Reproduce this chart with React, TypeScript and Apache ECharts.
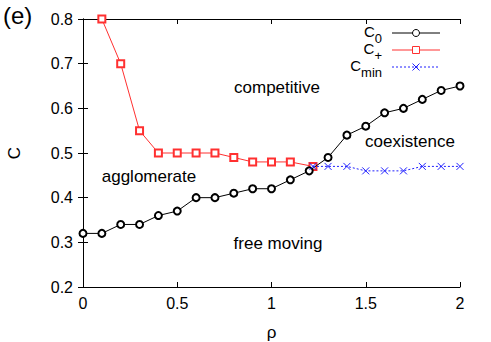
import React, { useEffect, useRef } from "react";
import * as echarts from "echarts";

const rho = [0, 0.1, 0.2, 0.3, 0.4, 0.5, 0.6, 0.7, 0.8, 0.9, 1.0, 1.1, 1.2, 1.3, 1.4, 1.5, 1.6, 1.7, 1.8, 1.9, 2.0];
const c0 = [0.32, 0.32, 0.34, 0.34, 0.36, 0.37, 0.40, 0.40, 0.41, 0.42, 0.42, 0.44, 0.46, 0.49, 0.54, 0.56, 0.59, 0.60, 0.62, 0.64, 0.65];
const cPlusRho = [0.1, 0.2, 0.3, 0.4, 0.5, 0.6, 0.7, 0.8, 0.9, 1.0, 1.1, 1.22];
const cPlus = [0.80, 0.70, 0.55, 0.50, 0.50, 0.50, 0.50, 0.49, 0.48, 0.48, 0.48, 0.47];
const cMinRho = [1.22, 1.3, 1.4, 1.5, 1.6, 1.7, 1.8, 1.9, 2.0];
const cMin = [0.47, 0.47, 0.47, 0.46, 0.46, 0.46, 0.47, 0.47, 0.47];

const xTicks = { min: 0, max: 2, interval: 0.5 };
const yTicks = { min: 0.2, max: 0.8, interval: 0.1 };

const legendNames = [
  { base: "C", sub: "0" },
  { base: "C", sub: "+" },
  { base: "C", sub: "min" },
];
const regionLabels = ["competitive", "agglomerate", "coexistence", "free moving"];

const FONT = "Liberation Sans";
const RED = "#ff3030";
const BLUE = "#2020ff";

function measure(text: string, size: number): number {
  const c = document.createElement("canvas").getContext("2d");
  if (!c) return text.length * size * 0.55;
  c.font = `${size}px "${FONT}"`;
  return c.measureText(text).width;
}

export default function App() {
  const ref = useRef<HTMLDivElement>(null);
  useEffect(() => {
    if (!ref.current) return;
    const chart = echarts.init(ref.current, undefined, { renderer: "svg" });
    const zip = (xs: number[], ys: number[]) => xs.map((x, i) => [x, ys[i]]);

    const axisCommon = {
      type: "value" as const,
      splitLine: { show: false },
      axisLine: { show: true, lineStyle: { color: "#000", width: 1 } },
      axisTick: { show: true, inside: true, length: 5, lineStyle: { color: "#000", width: 1 } },
    };

    const rowY = [33, 50, 67];
    const baseSize = 15;
    const subSize = 13;
    const textRight = 382;
    const legendGraphics: any[] = [];
    legendNames.forEach((n, i) => {
      const y = rowY[i];
      const baseBaseline = y + 4;
      const subBaseline = y + 10;
      const subW = measure(n.sub, subSize);
      legendGraphics.push({
        type: "text",
        x: textRight,
        y: subBaseline - 0.3465 * subSize,
        style: {
          text: n.sub,
          fontSize: subSize,
          fontFamily: FONT,
          fill: "#000",
          align: "right",
          verticalAlign: "middle",
        },
      });
      legendGraphics.push({
        type: "text",
        x: textRight - subW,
        y: baseBaseline - 0.3465 * baseSize,
        style: {
          text: n.base,
          fontSize: baseSize,
          fontFamily: FONT,
          fill: "#000",
          align: "right",
          verticalAlign: "middle",
        },
      });
      const color = i === 0 ? "#000" : i === 1 ? RED : BLUE;
      legendGraphics.push({
        type: "line",
        shape: { x1: 392, y1: y, x2: 440, y2: y },
        style: { stroke: color, lineWidth: 1, lineDash: i === 2 ? [2, 2] : null },
      });
      if (i === 0) {
        legendGraphics.push({ type: "circle", shape: { cx: 416, cy: y, r: 3.5 }, style: { stroke: "#000", fill: "#fff", lineWidth: 1 } });
      } else if (i === 1) {
        legendGraphics.push({ type: "rect", shape: { x: 412.5, y: y - 3.5, width: 7, height: 7 }, style: { stroke: RED, fill: "#fff", lineWidth: 1 } });
      } else {
        legendGraphics.push({ type: "line", shape: { x1: 412.5, y1: y - 3.5, x2: 419.5, y2: y + 3.5 }, style: { stroke: BLUE, lineWidth: 1 } });
        legendGraphics.push({ type: "line", shape: { x1: 412.5, y1: y + 3.5, x2: 419.5, y2: y - 3.5 }, style: { stroke: BLUE, lineWidth: 1 } });
      }
    });

    const labelPos = [
      [277, 87],
      [149, 176],
      [410, 141],
      [278, 243],
    ];
    const regionGraphics = regionLabels.map((t, i) => ({
      type: "text",
      x: labelPos[i][0],
      y: labelPos[i][1],
      style: { text: t, fontSize: 17, fontFamily: FONT, fill: "#000", align: "center", verticalAlign: "middle" },
    }));

    chart.setOption({
      animation: false,
      backgroundColor: "#fff",
      grid: { left: 83, right: 31, top: 19, bottom: 55, outerBoundsMode: "none", containLabel: false },
      xAxis: [
        {
          ...axisCommon,
          ...xTicks,
          position: "bottom",
          name: "ρ",
          nameLocation: "middle",
          nameGap: 37,
          nameTextStyle: { fontSize: 17, fontFamily: FONT, color: "#000" },
          axisLabel: { fontSize: 16, fontFamily: FONT, color: "#000", margin: 8 },
        },
        {
          ...axisCommon,
          ...xTicks,
          position: "top",
          axisLabel: { show: false },
        },
      ],
      yAxis: [
        {
          ...axisCommon,
          ...yTicks,
          position: "left",
          name: "C",
          nameLocation: "middle",
          nameGap: 60,
          nameTextStyle: { fontSize: 17, fontFamily: FONT, color: "#000" },
          axisLabel: {
            fontSize: 16,
            fontFamily: FONT,
            color: "#000",
            margin: 10,
            formatter: (v: number) => v.toFixed(1),
          },
        },
        {
          ...axisCommon,
          ...yTicks,
          position: "right",
          axisLabel: { show: false },
        },
      ],
      series: [
        {
          name: "C0",
          type: "line",
          data: zip(rho, c0),
          symbol: "emptyCircle",
          symbolSize: 7,
          lineStyle: { color: "#000", width: 1 },
          itemStyle: { color: "#000", borderColor: "#000", borderWidth: 1 },
          z: 3,
        },
        {
          name: "C+",
          type: "line",
          data: zip(cPlusRho, cPlus),
          symbol: "emptyRect",
          symbolSize: 7,
          lineStyle: { color: RED, width: 1 },
          itemStyle: { color: RED, borderColor: RED, borderWidth: 1 },
          z: 2,
        },
        {
          name: "Cmin",
          type: "line",
          data: zip(cMinRho, cMin),
          symbol: "path://M0,0L10,10M10,0L0,10",
          symbolSize: 7,
          lineStyle: { color: BLUE, width: 1, type: [2, 2] },
          itemStyle: { color: "none", borderColor: BLUE, borderWidth: 1 },
          z: 4,
        },
      ],
      graphic: [
        {
          type: "text",
          x: 3,
          y: 15,
          style: { text: "(e)", fontSize: 24, fontFamily: FONT, fill: "#000", align: "left", verticalAlign: "middle" },
        },
        ...regionGraphics,
        ...legendGraphics,
      ],
    });
    return () => chart.dispose();
  }, []);
  return (
    <div
      ref={ref}
      style={{ position: "absolute", left: 0, top: 0, width: 491, height: 342, background: "#fff" }}
    />
  );
}
